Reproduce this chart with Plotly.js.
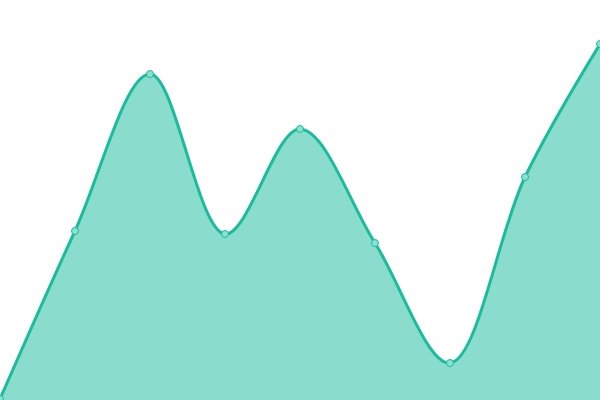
<!DOCTYPE html>
<html>
<head>
<meta charset="utf-8">
<script src="https://cdn.plot.ly/plotly-3.0.1.min.js"></script>
<style>
  html, body { margin: 0; padding: 0; background: #fff; }
  #plot { width: 600px; height: 400px; }
</style>
</head>
<body>
<div id="plot"></div>
<script>
const xs = [0, 1, 2, 3, 4, 5, 6, 7, 8];
const values = [0.25, 42.25, 81.5, 41.5, 67.75, 39.25, 9.25, 55.75, 89];

const trace = {
  x: xs,
  y: values,
  type: "scatter",
  mode: "lines+markers",
  fill: "tozeroy",
  fillcolor: "rgba(26,188,156,0.51)",
  line: { color: "#1abc9c", width: 3, shape: "spline", smoothing: 1 },
  marker: {
    size: 7,
    color: "#8ce0cf",
    line: { color: "#1abc9c", width: 1 }
  },
  cliponaxis: false,
  hoverinfo: "none"
};

const layout = {
  width: 600,
  height: 400,
  margin: { t: 0, r: 0, b: 0, l: 0 },
  paper_bgcolor: "#fff",
  plot_bgcolor: "#fff",
  showlegend: false,
  xaxis: { range: [0, 8], visible: false, fixedrange: true },
  yaxis: { range: [0, 100], visible: false, fixedrange: true }
};

Plotly.newPlot("plot", [trace], layout, { displayModeBar: false, staticPlot: true });
</script>
</body>
</html>
